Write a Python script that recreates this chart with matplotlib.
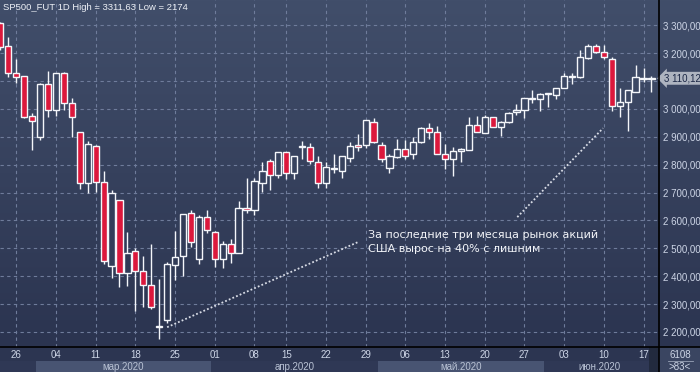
import numpy as np
import matplotlib
matplotlib.use("Agg")
import matplotlib.pyplot as plt
from matplotlib.colors import LinearSegmentedColormap, to_rgb
from matplotlib.lines import Line2D
from matplotlib.patches import Rectangle

# ---------------- data (daily candles, 24 Feb 2020 - 18 Jun 2020) ----------------
opens = [3307, 3226, 3128, 3117, 2974, 2898, 3089, 2998, 3129, 3020,
         2916, 2733, 2867, 2738, 2438, 2672, 2413, 2489, 2417, 2367,
         2219, 2243, 2441, 2471, 2625, 2460, 2614, 2560, 2461, 2517,
         2485, 2646, 2639, 2736, 2812, 2762, 2844, 2772, 2865, 2862,
         2808, 2735, 2790, 2779, 2825, 2869, 2869, 2955, 2869, 2790,
         2826, 2858, 2837, 2880, 2930, 2919, 2838, 2822, 2848, 2854,
         2943, 2914, 2971, 2937, 2955, 2990, 2995, 3036, 3036, 3052,
         3051, 3075, 3113, 3113, 3182, 3225, 3203, 3181, 3011, 3024,
         3062, 3112, 3109]
highs = [3311.63, 3259, 3181, 3120, 2986, 3094, 3136, 3130, 3131, 3039,
         2918, 2885, 2869, 2777, 2709, 2674, 2557, 2500, 2474, 2515,
         2389, 2450, 2561, 2623, 2637, 2621, 2637, 2562, 2526, 2532,
         2669, 2751, 2754, 2809, 2819, 2846, 2846, 2832, 2885, 2877,
         2833, 2808, 2838, 2833, 2881, 2912, 2960, 2966, 2881, 2838,
         2893, 2888, 2898, 2936, 2948, 2938, 2876, 2864, 2860, 2970,
         2976, 2978, 2973, 2957, 2988, 3019, 3039, 3068, 3056, 3058,
         3077, 3129, 3130, 3211, 3232, 3233, 3229, 3187, 3077, 3068,
         3156, 3147, 3120]
lows = [3212, 3115, 3092, 2968, 2852, 2888, 2972, 2974, 2996, 2898,
        2713, 2697, 2703, 2445, 2395, 2361, 2365, 2275, 2290, 2283,
        2174, 2232, 2386, 2401, 2505, 2445, 2555, 2433, 2428, 2449,
        2484, 2625, 2620, 2702, 2711, 2754, 2749, 2747, 2820, 2804,
        2717, 2715, 2771, 2754, 2808, 2850, 2861, 2879, 2809, 2771,
        2825, 2822, 2820, 2879, 2891, 2837, 2786, 2760, 2808, 2853,
        2916, 2913, 2934, 2904, 2948, 2979, 2966, 3020, 2993, 3008,
        3035, 3074, 3088, 3112, 3178, 3202, 3181, 2993, 2970, 2922,
        3061, 3095, 3062]
closes = [3223, 3128, 3113, 2972, 2957, 3089, 2998, 3129, 3020, 2970,
          2733, 2876, 2739, 2453, 2700, 2413, 2485, 2420, 2370, 2288,
          2221, 2445, 2468, 2622, 2521, 2614, 2564, 2460, 2517, 2482,
          2646, 2636, 2740, 2779, 2762, 2844, 2770, 2830, 2867, 2812,
          2733, 2791, 2783, 2831, 2867, 2862, 2959, 2883, 2822, 2830,
          2858, 2833, 2883, 2931, 2919, 2840, 2819, 2849, 2855, 2944,
          2917, 2970, 2937, 2955, 2987, 2996, 3038, 3041, 3054, 3056,
          3076, 3117, 3117, 3185, 3225, 3203, 3185, 3011, 3024, 3067,
          3116, 3106, 3110.12]

tick_idx = [2, 7, 12, 17, 22, 27, 32, 36, 41, 46, 51, 56, 61, 66, 71, 76, 81]
tick_labels = ["26", "04", "11", "18", "25", "01", "08", "15", "22", "29",
               "06", "13", "20", "27", "03", "10", "17"]
month_start = [0, 5, 27, 48, 69]
month_end = [4, 26, 47, 68, 82]
month_labels = ["", "мар.2020", "апр.2020", "май.2020", "июн.2020"]
price_ticks = [2200, 2300, 2400, 2500, 2600, 2700, 2800, 2900, 3000, 3100, 3200, 3300]
last_price = 3110.12
title = "SP500_FUT 1D High = 3311,63 Low = 2174"
note = "За последние три месяца рынок акций\nСША вырос на 40% с лишним"

# ---------------- styling ----------------
W, H = 700, 372
PLOT_R = 659
PLOT_B = 347
TOP_C = "#414e6a"
BOT_C = "#2b3450"
RED = "#dc183c"
WHITE = "#f4f6fa"
GRID = "#6f7c9b"
TXT = "#cdd5e6"
YLIM = (2146, 3391)
XLIM = (-0.05, 82.95)


def fmt_price(v):
    return f"{v:,.2f}".replace(",", " ").replace(".", ",")


fig = plt.figure(figsize=(W / 100, H / 100), dpi=100)

# gradient background for the whole upper area
bg = fig.add_axes([0, (H - PLOT_B) / H, 1, PLOT_B / H])
cmap = LinearSegmentedColormap.from_list("bg", [TOP_C, BOT_C])
grad = np.linspace(0, 1, 256).reshape(-1, 1)
bg.imshow(grad, aspect="auto", cmap=cmap, extent=[0, 1, 0, 1], origin="upper")
bg.set_axis_off()

top_rgb = np.array(to_rgb(TOP_C))
bot_rgb = np.array(to_rgb(BOT_C))


def bg_color(v):
    t = (YLIM[1] - v) / (YLIM[1] - YLIM[0])
    t = min(max(t, 0), 1)
    return tuple(top_rgb * (1 - t) + bot_rgb * t)


ax = fig.add_axes([0, (H - PLOT_B) / H, PLOT_R / W, PLOT_B / H])
ax.patch.set_alpha(0)
ax.set_xlim(*XLIM)
ax.set_ylim(*YLIM)
for s in ax.spines.values():
    s.set_visible(False)

ax.set_xticks(tick_idx)
ax.set_yticks(price_ticks)
ax.grid(True, color=GRID, linestyle=(0, (3, 3)), linewidth=0.8)
ax.set_axisbelow(True)
ax.tick_params(axis="x", length=0, labelbottom=False)
ax.yaxis.tick_right()
ax.tick_params(axis="y", length=0, pad=3, labelsize=7, labelcolor=TXT)
# the 3 100 label is hidden behind the last-price marker
ax.set_yticklabels(["" if abs(v - last_price) < 40 else fmt_price(v) for v in price_ticks],
                   family="Liberation Sans")

x = np.arange(len(opens))
o = np.array(opens, float)
c = np.array(closes, float)
hi = np.array(highs, float)
lo = np.array(lows, float)

ax.vlines(x, lo, hi, color=WHITE, linewidth=1.0, zorder=2)
for i in range(len(x)):
    bottom = min(o[i], c[i])
    height = abs(c[i] - o[i])
    up = c[i] >= o[i]
    fc = bg_color((o[i] + c[i]) / 2) if up else RED
    ax.bar(x[i], height, bottom=bottom, width=0.78, color=fc,
           edgecolor=WHITE, linewidth=1.0, zorder=3)

# dotted trend hints
ax.plot([21.0, 45.0], [2217, 2522], color="#d8dce6", linestyle=(0, (1, 1.2)),
        linewidth=1.3, zorder=2)
ax.plot([65.1, 75.9], [2612, 2931], color="#d8dce6", linestyle=(0, (1, 1.2)),
        linewidth=1.3, zorder=2)
ax.text(46.3, 2522, note, color="#f2f4f8", fontsize=8, family="DejaVu Sans",
        va="center", ha="left", linespacing=1.45, zorder=4)

# last price marker on the axis
ax.annotate(fmt_price(last_price),
            xy=(1.0, last_price), xycoords=("axes fraction", "data"),
            xytext=(5, 0), textcoords="offset pixels", va="center", ha="left",
            fontsize=7, family="Liberation Sans", color="#1c2846",
            bbox=dict(boxstyle="larrow,pad=0.15", fc="#aeb4c0", ec="none"),
            annotation_clip=False)

fig.text(0.004, 0.993, title, color="#eef1f7", fontsize=6.8, family="Liberation Sans",
         va="top", ha="left")

# bottom date band
axb = fig.add_axes([0, 0, PLOT_R / W, (H - PLOT_B) / H], sharex=ax)
axb.set_ylim(0, 1)
axb.set_xlim(*XLIM)
axb.set_axis_off()
axb.add_patch(Rectangle((XLIM[0], 0), XLIM[1] - XLIM[0], 1, color="#2c3551", zorder=0))
for k, (a, b, lab) in enumerate(zip(month_start, month_end, month_labels)):
    col = "#485472" if k % 2 == 1 else "#2f3855"
    axb.add_patch(Rectangle((a - 0.5, 0), b - a + 1, 0.44, color=col, zorder=1, lw=0))
    if lab:
        axb.text((a + b) / 2, 0.22, lab, color="#b9c2d4", fontsize=7,
                 family="Liberation Sans", ha="center", va="center", zorder=2)
for t, lab in zip(tick_idx, tick_labels):
    axb.text(t, 0.68, lab, color=TXT, fontsize=7, family="Liberation Sans",
             ha="center", va="center", zorder=2)
axb.add_patch(Rectangle((81.75, 0), 1.25, 1, color="#222a3e", zorder=3, lw=0))

# bottom-right box
fig.patches.append(Rectangle((PLOT_R / W, 0), 1 - PLOT_R / W, (H - PLOT_B) / H,
                             transform=fig.transFigure, color="#3a4561", zorder=1))
fig.text(680 / W, (H - 355) / H, "6108", color=TXT, fontsize=7, family="Liberation Sans",
         ha="center", va="center")
fig.lines.append(Line2D([668 / W, 693 / W], [(H - 361) / H] * 2, transform=fig.transFigure,
                        color="#9aa4b8", linewidth=0.6))
fig.text(680 / W, (H - 366.5) / H, ">83<", color=TXT, fontsize=7, family="Liberation Sans",
         ha="center", va="center")

# black frame lines
fig.lines.append(Line2D([0, 1], [(H - PLOT_B) / H] * 2, transform=fig.transFigure,
                        color="black", linewidth=1.2, zorder=10))
fig.lines.append(Line2D([PLOT_R / W] * 2, [0, 1], transform=fig.transFigure,
                        color="black", linewidth=1.2, zorder=10))

fig.savefig("out.png", dpi=100)
